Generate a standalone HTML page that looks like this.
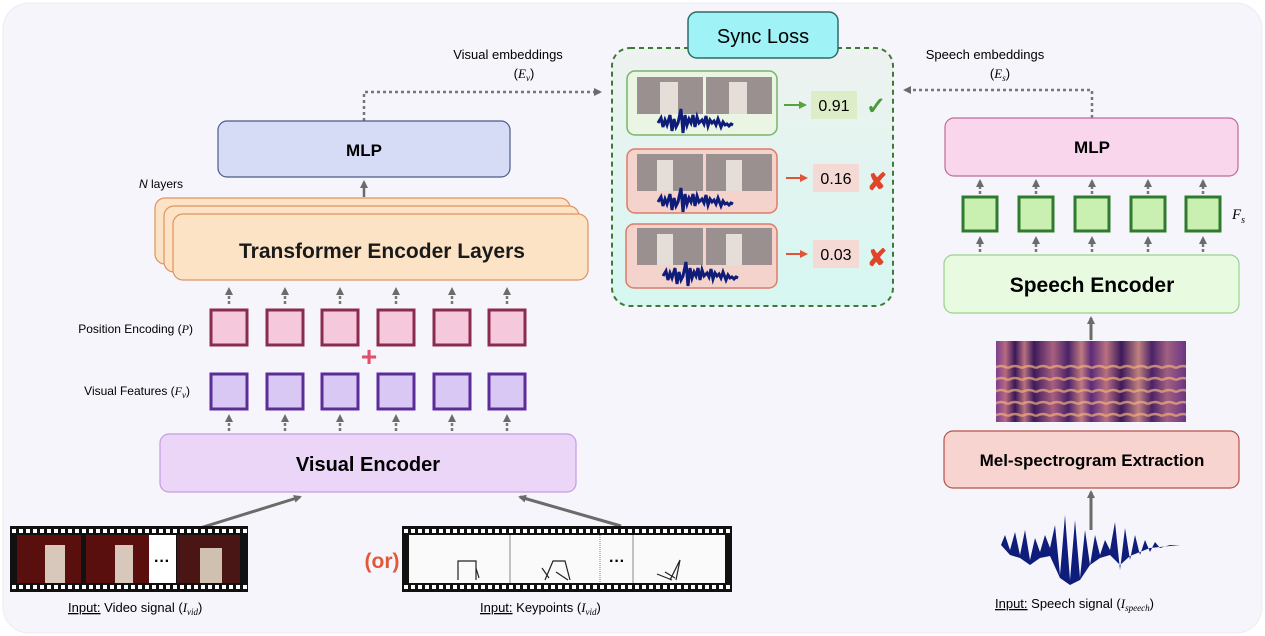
<!DOCTYPE html>
<html><head><meta charset="utf-8"><style>
html,body{margin:0;padding:0;background:#fff;}
svg{display:block;font-family:"Liberation Sans",sans-serif;}
.b{font-weight:bold;}
</style></head><body>
<svg width="1265" height="636" viewBox="0 0 1265 636" xmlns="http://www.w3.org/2000/svg">
<defs>
<marker id="ag" markerWidth="8" markerHeight="8" refX="6" refY="4" orient="auto" markerUnits="userSpaceOnUse"><path d="M0,0 L8,4 L0,8 z" fill="#6b6b6b"/></marker>
<marker id="ar" markerWidth="8" markerHeight="8" refX="6" refY="4" orient="auto" markerUnits="userSpaceOnUse"><path d="M0,0 L8,4 L0,8 z" fill="#e0553a"/></marker>
<marker id="agr" markerWidth="8" markerHeight="8" refX="6" refY="4" orient="auto" markerUnits="userSpaceOnUse"><path d="M0,0 L8,4 L0,8 z" fill="#5aa33a"/></marker>
<linearGradient id="sg" x1="0" y1="0" x2="0" y2="1"><stop offset="0" stop-color="#eef2f0"/><stop offset="1" stop-color="#d6f7f1"/></linearGradient>
<linearGradient id="spec" x1="0" y1="0" x2="1" y2="0">
<stop offset="0" stop-color="#7a3f8f"/><stop offset="0.05" stop-color="#b86a80"/><stop offset="0.1" stop-color="#3a1858"/><stop offset="0.15" stop-color="#b87080"/><stop offset="0.2" stop-color="#3d1a5c"/><stop offset="0.3" stop-color="#a86080"/><stop offset="0.38" stop-color="#4a2268"/><stop offset="0.45" stop-color="#c07a80"/><stop offset="0.5" stop-color="#5a2b7a"/><stop offset="0.58" stop-color="#b87080"/><stop offset="0.66" stop-color="#3d1a5c"/><stop offset="0.75" stop-color="#c08080"/><stop offset="0.82" stop-color="#4a2268"/><stop offset="0.9" stop-color="#a06080"/><stop offset="1" stop-color="#6a3585"/></linearGradient>
<pattern id="stripes" width="14" height="12" patternUnits="userSpaceOnUse"><path d="M0,8 Q7,4 14,8" stroke="#f2b07a" stroke-width="2.5" fill="none" opacity="0.7"/></pattern>
<g id="wave"><path d="M0,0 l3,-5 2,9 2,-7 2,5 3,-10 2,16 2,-12 2,8 2,-4 3,-14 2,24 2,-18 2,10 2,-6 2,4 2,-8 2,12 2,-10 2,6 3,-3 2,4 2,-8 2,10 2,-6 2,3 2,-2 2,4 2,-6 3,8 2,-5 2,3 2,-1 2,2 2,-2 2,1" stroke="#0f1d7a" stroke-width="3" fill="none"/></g>
</defs>
<rect x="3" y="3" width="1259" height="630" rx="26" fill="#f5f5fb" stroke="#ececf3"/>

<!-- Sync loss -->
<rect x="612" y="48" width="281" height="258" rx="18" fill="url(#sg)" stroke="#3d7a33" stroke-width="2" stroke-dasharray="5,4"/>
<rect x="688" y="12" width="150" height="46" rx="9" fill="#9ff3f6" stroke="#2e6b6b" stroke-width="1.5"/>
<text x="763" y="43" text-anchor="middle" font-size="20">Sync Loss</text>

<g>
<rect x="627" y="71" width="150" height="64" rx="8" fill="#eaf5e3" stroke="#7ab36a" stroke-width="1.5"/>
<rect x="637" y="77" width="66" height="37" fill="#9a9090"/><rect x="706" y="77" width="66" height="37" fill="#9a9090"/>
<rect x="660" y="82" width="18" height="32" fill="#e4ddd8"/><rect x="729" y="82" width="18" height="32" fill="#e4ddd8"/>
<use href="#wave" x="658" y="123"/>
<line x1="784" y1="105" x2="805" y2="105" stroke="#5aa33a" stroke-width="2" marker-end="url(#agr)"/>
<rect x="811" y="91" width="46" height="28" fill="#dcedc8"/>
<text x="834" y="111" text-anchor="middle" font-size="16">0.91</text>
<text x="876" y="114" text-anchor="middle" font-size="24" fill="#4a9a3a" class="b">✓</text>
</g>
<g>
<rect x="627" y="149" width="150" height="64" rx="8" fill="#f5d3cd" stroke="#e07a66" stroke-width="1.5"/>
<rect x="637" y="154" width="66" height="37" fill="#9a9090"/><rect x="706" y="154" width="66" height="37" fill="#9a9090"/>
<rect x="657" y="160" width="16" height="31" fill="#e4ddd8"/><rect x="726" y="160" width="16" height="31" fill="#e4ddd8"/>
<use href="#wave" x="658" y="202"/>
<line x1="786" y1="178" x2="806" y2="178" stroke="#e0553a" stroke-width="2" marker-end="url(#ar)"/>
<rect x="813" y="164" width="46" height="28" fill="#f4d9d4"/>
<text x="836" y="184" text-anchor="middle" font-size="16">0.16</text>
<text x="877" y="190" text-anchor="middle" font-size="24" fill="#e0452a" class="b">✘</text>
</g>
<g>
<rect x="626" y="224" width="151" height="64" rx="8" fill="#f5d3cd" stroke="#e07a66" stroke-width="1.5"/>
<rect x="637" y="228" width="66" height="37" fill="#9a9090"/><rect x="706" y="228" width="66" height="37" fill="#9a9090"/>
<rect x="657" y="234" width="16" height="31" fill="#e4ddd8"/><rect x="726" y="234" width="16" height="31" fill="#e4ddd8"/>
<use href="#wave" x="663" y="276"/>
<line x1="786" y1="254" x2="806" y2="254" stroke="#e0553a" stroke-width="2" marker-end="url(#ar)"/>
<rect x="813" y="240" width="46" height="28" fill="#f4d9d4"/>
<text x="836" y="260" text-anchor="middle" font-size="16">0.03</text>
<text x="877" y="266" text-anchor="middle" font-size="24" fill="#e0452a" class="b">✘</text>
</g>

<!-- embeddings connectors -->
<path d="M364,121 V92 H600" fill="none" stroke="#777" stroke-width="2.5" stroke-dasharray="3,3" marker-end="url(#ag)"/>
<path d="M1092,118 V90 H905" fill="none" stroke="#777" stroke-width="2.5" stroke-dasharray="3,3" marker-end="url(#ag)"/>
<text x="508" y="59" text-anchor="middle" font-size="13">Visual embeddings</text>
<text x="524" y="78" text-anchor="middle" font-size="13">(<tspan font-family="Liberation Serif" font-style="italic">E<tspan font-size="9" dy="3">v</tspan></tspan><tspan dy="-3">)</tspan></text>
<text x="985" y="59" text-anchor="middle" font-size="13">Speech embeddings</text>
<text x="1000" y="78" text-anchor="middle" font-size="13">(<tspan font-family="Liberation Serif" font-style="italic">E<tspan font-size="9" dy="3">s</tspan></tspan><tspan dy="-3">)</tspan></text>

<!-- Left MLP -->
<rect x="218" y="121" width="292" height="56" rx="9" fill="#d6dcf6" stroke="#4a5a8a" stroke-width="1.2"/>
<text x="364" y="156" text-anchor="middle" font-size="17" class="b">MLP</text>
<line x1="364" y1="197" x2="364" y2="182" stroke="#6b6b6b" stroke-width="2.5" marker-end="url(#ag)"/>
<text x="139" y="188" font-size="12"><tspan font-style="italic">N</tspan> layers</text>

<rect x="155" y="198" width="415" height="66" rx="10" fill="#fde3c6" stroke="#e0935e" stroke-width="1.2"/>
<rect x="164" y="206" width="415" height="66" rx="10" fill="#fde3c6" stroke="#e0935e" stroke-width="1.2"/>
<rect x="173" y="214" width="415" height="66" rx="10" fill="#fde3c6" stroke="#e0935e" stroke-width="1.2"/>
<text x="382" y="258" text-anchor="middle" font-size="21" class="b" fill="#1a1a1a">Transformer Encoder Layers</text>

<g stroke="#777" stroke-width="2.5" stroke-dasharray="3,2">
<line x1="229" y1="304" x2="229" y2="289" marker-end="url(#ag)"/><line x1="285" y1="304" x2="285" y2="289" marker-end="url(#ag)"/><line x1="340" y1="304" x2="340" y2="289" marker-end="url(#ag)"/><line x1="396" y1="304" x2="396" y2="289" marker-end="url(#ag)"/><line x1="452" y1="304" x2="452" y2="289" marker-end="url(#ag)"/><line x1="507" y1="304" x2="507" y2="289" marker-end="url(#ag)"/>
<line x1="229" y1="431" x2="229" y2="416" marker-end="url(#ag)"/><line x1="285" y1="431" x2="285" y2="416" marker-end="url(#ag)"/><line x1="340" y1="431" x2="340" y2="416" marker-end="url(#ag)"/><line x1="396" y1="431" x2="396" y2="416" marker-end="url(#ag)"/><line x1="452" y1="431" x2="452" y2="416" marker-end="url(#ag)"/><line x1="507" y1="431" x2="507" y2="416" marker-end="url(#ag)"/>
</g>
<g fill="#f6c8db" stroke="#8b2c4f" stroke-width="3">
<rect x="211" y="310" width="36" height="35"/><rect x="267" y="310" width="36" height="35"/><rect x="322" y="310" width="36" height="35"/><rect x="378" y="310" width="36" height="35"/><rect x="434" y="310" width="36" height="35"/><rect x="489" y="310" width="36" height="35"/>
</g>
<text x="369" y="366" text-anchor="middle" font-size="28" class="b" fill="#e0506a">+</text>
<g fill="#d8c8f3" stroke="#5a2d99" stroke-width="3">
<rect x="211" y="374" width="36" height="35"/><rect x="267" y="374" width="36" height="35"/><rect x="322" y="374" width="36" height="35"/><rect x="378" y="374" width="36" height="35"/><rect x="434" y="374" width="36" height="35"/><rect x="489" y="374" width="36" height="35"/>
</g>
<text x="193" y="333" text-anchor="end" font-size="12">Position Encoding (<tspan font-family="Liberation Serif" font-style="italic">P</tspan>)</text>
<text x="190" y="395" text-anchor="end" font-size="12">Visual Features (<tspan font-family="Liberation Serif" font-style="italic">F<tspan font-size="9" dy="3">v</tspan></tspan><tspan dy="-3">)</tspan></text>

<rect x="160" y="434" width="416" height="58" rx="9" fill="#ecd6f8" stroke="#c49be0" stroke-width="1.2"/>
<text x="368" y="471" text-anchor="middle" font-size="20" class="b">Visual Encoder</text>

<line x1="200" y1="528" x2="300" y2="497" stroke="#6b6b6b" stroke-width="3" marker-end="url(#ag)"/>
<line x1="621" y1="526" x2="520" y2="497" stroke="#6b6b6b" stroke-width="3" marker-end="url(#ag)"/>

<!-- film strips -->
<g>
<rect x="10" y="526" width="238" height="66" fill="#111"/>
<line x1="12" y1="531" x2="248" y2="531" stroke="#fff" stroke-width="4" stroke-dasharray="4,3"/>
<line x1="12" y1="587" x2="248" y2="587" stroke="#fff" stroke-width="4" stroke-dasharray="4,3"/>
<rect x="17" y="535" width="64" height="48" fill="#5a0f0f"/><rect x="86" y="535" width="63" height="48" fill="#5a0f0f"/>
<rect x="149" y="535" width="27" height="48" fill="#fff"/><rect x="177" y="535" width="63" height="48" fill="#4a1515"/>
<rect x="45" y="545" width="20" height="38" fill="#d8c8bc"/><rect x="115" y="545" width="18" height="38" fill="#d8c8bc"/><rect x="200" y="548" width="22" height="35" fill="#cfc0b0"/>
<text x="162" y="566" text-anchor="middle" font-size="16" class="b">···</text>
</g>
<text x="382" y="568" text-anchor="middle" font-size="21" class="b" fill="#e05a3a">(or)</text>
<g>
<rect x="402" y="526" width="330" height="66" fill="#111"/>
<line x1="404" y1="531" x2="732" y2="531" stroke="#fff" stroke-width="4" stroke-dasharray="4,3"/>
<line x1="404" y1="587" x2="732" y2="587" stroke="#fff" stroke-width="4" stroke-dasharray="4,3"/>
<rect x="409" y="535" width="316" height="48" fill="#fafafa"/>
<line x1="510" y1="535" x2="510" y2="583" stroke="#888"/><line x1="600" y1="535" x2="600" y2="583" stroke="#888" stroke-dasharray="1,1"/><line x1="633" y1="535" x2="633" y2="583" stroke="#888"/>
<text x="617" y="566" text-anchor="middle" font-size="16" class="b">···</text>
<g stroke="#222" stroke-width="1.2" fill="none"><path d="M458,580 V561 H476 V580 M458,565 v12 M476,568 l3,10"/><path d="M545,580 L553,561 H565 L570,580 M542,568 l7,10 M556,572 l12,8"/><path d="M670,580 L680,560 L676,580 M657,574 l15,6 M665,572 l10,6"/></g>
</g>
<text x="68" y="612" font-size="13"><tspan text-decoration="underline">Input:</tspan> Video signal (<tspan font-family="Liberation Serif" font-style="italic">I<tspan font-size="9" dy="3">vid</tspan></tspan><tspan dy="-3">)</tspan></text>
<text x="480" y="612" font-size="13"><tspan text-decoration="underline">Input:</tspan> Keypoints (<tspan font-family="Liberation Serif" font-style="italic">I<tspan font-size="9" dy="3">vid</tspan></tspan><tspan dy="-3">)</tspan></text>

<!-- right side -->
<rect x="945" y="118" width="293" height="58" rx="9" fill="#f9d6ec" stroke="#c06a9a" stroke-width="1.2"/>
<text x="1092" y="153" text-anchor="middle" font-size="17" class="b">MLP</text>
<g stroke="#777" stroke-width="2.5" stroke-dasharray="3,2">
<line x1="980" y1="194" x2="980" y2="181" marker-end="url(#ag)"/><line x1="1036" y1="194" x2="1036" y2="181" marker-end="url(#ag)"/><line x1="1092" y1="194" x2="1092" y2="181" marker-end="url(#ag)"/><line x1="1148" y1="194" x2="1148" y2="181" marker-end="url(#ag)"/><line x1="1203" y1="194" x2="1203" y2="181" marker-end="url(#ag)"/>
<line x1="980" y1="252" x2="980" y2="238" marker-end="url(#ag)"/><line x1="1036" y1="252" x2="1036" y2="238" marker-end="url(#ag)"/><line x1="1092" y1="252" x2="1092" y2="238" marker-end="url(#ag)"/><line x1="1148" y1="252" x2="1148" y2="238" marker-end="url(#ag)"/><line x1="1203" y1="252" x2="1203" y2="238" marker-end="url(#ag)"/>
</g>
<g fill="#c9f0b0" stroke="#2f7a2f" stroke-width="3">
<rect x="963" y="197" width="34" height="34"/><rect x="1019" y="197" width="34" height="34"/><rect x="1075" y="197" width="34" height="34"/><rect x="1131" y="197" width="34" height="34"/><rect x="1186" y="197" width="34" height="34"/>
</g>
<text x="1232" y="219" font-size="15" font-family="Liberation Serif" font-style="italic">F<tspan font-size="10" dy="4">s</tspan></text>
<rect x="944" y="255" width="295" height="58" rx="9" fill="#e8fbe0" stroke="#9ad08a" stroke-width="1.2"/>
<text x="1092" y="292" text-anchor="middle" font-size="21" class="b">Speech Encoder</text>
<line x1="1091" y1="340" x2="1091" y2="318" stroke="#6b6b6b" stroke-width="3" marker-end="url(#ag)"/>
<rect x="996" y="341" width="190" height="81" fill="url(#spec)"/>
<rect x="996" y="360" width="190" height="62" fill="url(#stripes)"/>
<rect x="944" y="431" width="295" height="57" rx="9" fill="#f8d4d0" stroke="#b8504a" stroke-width="1.2"/>
<text x="1092" y="466" text-anchor="middle" font-size="17" class="b">Mel-spectrogram Extraction</text>
<g fill="#0f1d7a">
<path d="M1001,545 L1005,535 1010,550 1015,532 1020,555 1025,530 1030,560 1035,538 1040,552 1045,535 1050,548 1055,525 1060,575 1065,515 1070,580 1075,520 1080,578 1085,530 1090,565 1095,535 1100,555 1105,540 1110,550 1115,522 1120,570 1125,528 1130,560 1135,535 1140,555 1145,540 1150,552 1155,542 1160,548 1170,545 1180,545 1170,546 1150,548 1140,552 1130,556 1120,565 1110,555 1100,558 1090,565 1080,580 1070,585 1060,578 1050,556 1040,558 1030,565 1020,558 1010,555 Z"/>
</g>
<line x1="1091" y1="530" x2="1091" y2="492" stroke="#6b6b6b" stroke-width="3" marker-end="url(#ag)"/>
<text x="995" y="608" font-size="13"><tspan text-decoration="underline">Input:</tspan> Speech signal (<tspan font-family="Liberation Serif" font-style="italic">I<tspan font-size="9" dy="3">speech</tspan></tspan><tspan dy="-3">)</tspan></text>
</svg>
</body></html>
